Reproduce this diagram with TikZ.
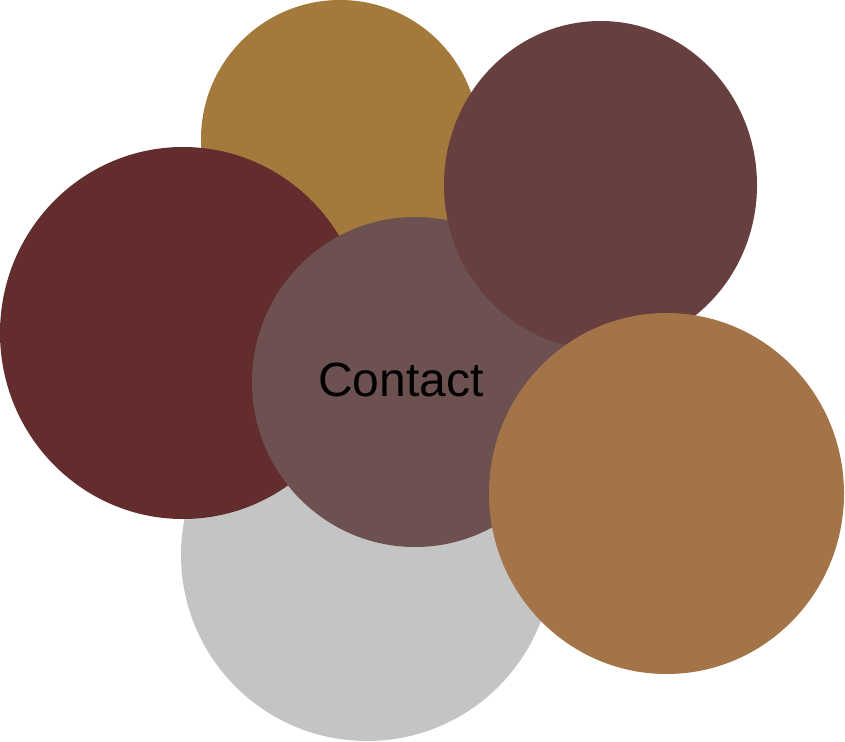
\documentclass[tikz,border=0pt]{standalone}
\usepackage{fontspec}
\setmainfont{Liberation Sans}
\usepackage{tikz}
\usetikzlibrary{positioning}
\definecolor{goldbrown}{HTML}{A37A3C}
\definecolor{plum}{HTML}{673F3F}
\definecolor{darkred}{HTML}{632D2E}
\definecolor{lightgray}{HTML}{C4C4C4}
\definecolor{mauve}{HTML}{6D5050}
\definecolor{copper}{HTML}{A47449}

\begin{document}
\begin{tikzpicture}[
    x=1pt,
    y=-1pt,
    blob/.style={draw=none}
]
  \useasboundingbox (0, 0) rectangle (845, 741);
  \fill[blob, goldbrown] (340, 139) circle[radius=139];
  \fill[blob, lightgray] (367, 555) circle[radius=186];
  \fill[blob, darkred] (183, 333) ellipse[x radius=183, y radius=186];
  \fill[blob, mauve] (415, 382) ellipse[x radius=163, y radius=165];
  \fill[blob, plum] (600.5, 185) ellipse[x radius=156.5, y radius=164];
  \fill[blob, copper] (666.5, 493.5) ellipse[x radius=177.5, y radius=180.5];
  \node[font=\fontsize{48}{56}\selectfont, inner sep=0pt] (contact) at (401, 380) {Contact};
\end{tikzpicture}
\end{document}
